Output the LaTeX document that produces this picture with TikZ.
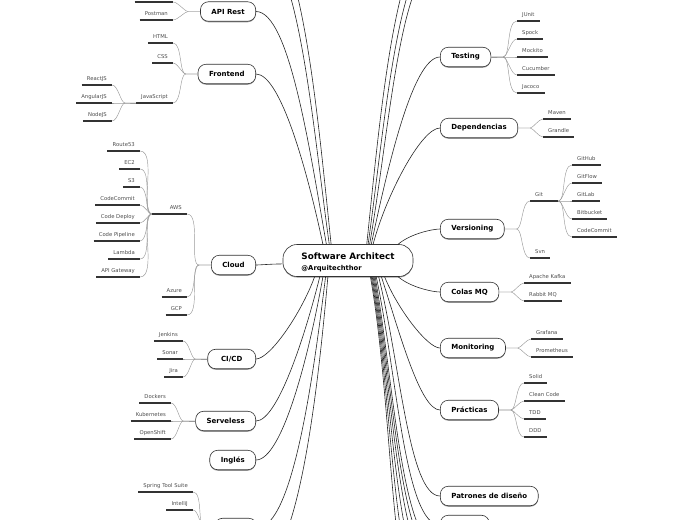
\documentclass[tikz,border=0pt]{standalone}
\usepackage{fontspec}
\setmainfont{DejaVu Sans}
\usetikzlibrary{shadows}

\tikzset{
  root/.style={draw=black!80, fill=white, line width=0.6pt, rounded corners=14pt,
    minimum width=130pt, minimum height=32pt, align=left, inner sep=0pt,
    font=\bfseries\fontsize{8.8}{11}\selectfont,
    drop shadow={shadow xshift=0pt, shadow yshift=-1pt, fill=black!40, opacity=1}},
  topic/.style={draw=black!80, fill=white, line width=0.6pt, rounded corners=8pt,
    minimum height=19.5pt, inner xsep=11pt, inner ysep=0pt,
    font=\bfseries\fontsize{7}{8}\selectfont,
    drop shadow={shadow xshift=0pt, shadow yshift=-1pt, fill=black!40, opacity=1}},
  leaf/.style={font=\fontsize{5.3}{6}\selectfont, text=black!70, inner xsep=5pt,
    inner ysep=1.5pt, text height=4pt, text depth=2.7pt,
    append after command={(\tikzlastnode.south west) edge[uline] (\tikzlastnode.south east)}},
  uline/.style={draw=black!80, line width=1.2pt},
  trunk/.style={draw=black!85, line width=0.6pt, in looseness=.35},
  twig/.style={draw=black!40, line width=0.45pt},
  lt/.style={out=180, in=0, out looseness=.5, in looseness=.7},
  rt/.style={out=0, in=180, out looseness=.5, in looseness=.7},
}

\begin{document}
\begin{tikzpicture}[x=1pt, y=1pt]
  \useasboundingbox (0,0) rectangle (697,-520);

  % centre
  \node[root] (root) at (348,-260.5) {\rule{0pt}{10pt}Software Architect\\{\fontsize{6.8}{8}\selectfont @Arquitechthor}};

  % left topics
  \node[topic, anchor=east] (api) at (256,-11.5) {API Rest};
  \node[topic, anchor=east] (front) at (256,-74) {Frontend};
  \node[topic, anchor=east] (cloud) at (256,-265) {Cloud};
  \node[topic, anchor=east, minimum width=48pt] (cicd) at (256,-359) {CI/CD};
  \node[topic, anchor=east] (serv) at (256,-421) {Serveless};
  \node[topic, anchor=east] (ingles) at (256,-460) {Inglés};
  \node[topic, anchor=east, minimum width=42pt] (ide) at (257,-528) {};

  % right topics
  \node[topic, anchor=west] (test) at (440,-57) {Testing};
  \node[topic, anchor=west] (deps) at (440,-128) {Dependencias};
  \node[topic, anchor=west] (vers) at (440,-229) {Versioning};
  \node[topic, anchor=west] (colas) at (440,-292) {Colas MQ};
  \node[topic, anchor=west] (monit) at (440,-348) {Monitoring};
  \node[topic, anchor=west] (pract) at (440,-410) {Prácticas};
  \node[topic, anchor=west] (patron) at (440,-496) {Patrones de diseño};
  \node[topic, anchor=west, minimum width=49pt] (last) at (440,-525) {};

  % branches that run off the page
  \coordinate (up1) at (256,56);
  \coordinate (up2) at (256,78);
  \coordinate (up3) at (440,38);
  \coordinate (up4) at (440,52);
  \coordinate (up5) at (440,70);
  \coordinate (down1) at (256,-570);

  % main branches
  \draw[trunk] (root.136) to[out=96, in=0] (up2);
  \draw[trunk] (root.139) to[out=98, in=0] (up1);
  \draw[trunk] (root.143) to[out=100, in=0] (api.east);
  \draw[trunk] (root.147) to[out=102, in=0] (front.east);
  \draw[trunk] (root.183) to[out=180, in=0] (cloud.east);
  \draw[trunk] (root.206) to[out=250, in=0] (cicd.east);
  \draw[trunk] (root.210) to[out=256, in=0] (serv.east);
  \draw[trunk] (root.213) to[out=260, in=0] (ingles.east);
  \draw[trunk] (root.216) to[out=263, in=0] (ide.east);
  \draw[trunk] (root.219) to[out=265, in=0] (down1);
  \draw[trunk] (root.41) to[out=84, in=180] (up5);
  \draw[trunk] (root.39) to[out=82, in=180] (up4);
  \draw[trunk] (root.37) to[out=80, in=180] (up3);
  \draw[trunk] (root.35) to[out=78, in=180] (test.west);
  \draw[trunk] (root.33) to[out=75, in=180] (deps.west);
  \draw[trunk] (root.18) to[out=40, in=180] (vers.west);
  \draw[trunk] (root.-18) to[out=-40, in=180] (colas.west);
  \draw[trunk] (root.-24) to[out=-68, in=180] (monit.west);
  \draw[trunk] (root.-26) to[out=-72, in=180] (pract.west);
  \draw[trunk] (root.-28) to[out=-76, in=180] (patron.west);
  \draw[trunk] (root.-30) to[out=-78, in=180] (last.west);
  \foreach \a/\y in {-31/548, -32/560, -33/575, -34/595, -35/620, -36/650}{
    \coordinate (down\y) at (440,-\y);
    \draw[trunk] (root.\a) to[out=-80, in=180] (down\y);
  }

  % API Rest
  \node[leaf, anchor=south east, minimum width=38pt] (api1) at (173,-2) {};
  \node[leaf, anchor=south east] (postman) at (173,-20) {Postman};
  \draw[twig] (api.west) -- ++(-12,0) to[lt] (api1.south east);
  \draw[twig] (api.west) -- ++(-12,0) to[lt] (postman.south east);

  % Frontend
  \foreach \n/\t/\y in {html/HTML/43, css/CSS/63, js/JavaScript/103}{
    \node[leaf, anchor=south east] (\n) at (173,-\y) {\t};
    \draw[twig] (front.west) -- ++(-12,0) to[lt] (\n.south east);
  }
  \foreach \n/\t/\y in {react/ReactJS/85, angular/AngularJS/103, nodejs/NodeJS/121}{
    \node[leaf, anchor=south east] (\n) at (112,-\y) {\t};
    \draw[twig] (js.south west) -- ++(-11,0) to[lt] (\n.south east);
  }

  % Cloud
  \node[leaf, anchor=south east, text width=25pt, align=right] (aws) at (187,-214) {AWS};
  \node[leaf, anchor=south east] (azure) at (187,-297) {Azure};
  \node[leaf, anchor=south east] (gcp) at (187,-315) {GCP};
  \foreach \n in {aws, azure, gcp}
    \draw[twig] (cloud.west) -- ++(-12,0) to[lt] (\n.south east);
  \foreach \n/\t/\y in {route/Route53/151, ec2/EC2/169, s3/S3/187, commit/CodeCommit/205,
      deploy/Code Deploy/223, pipe/Code Pipeline/241, lambda/Lambda/259, gateway/API Gateway/277}{
    \node[leaf, anchor=south east] (\n) at (140,-\y) {\t};
    \draw[twig] (aws.south west) to[lt] (\n.south east);
  }

  % CI/CD
  \foreach \n/\t/\y in {jenkins/Jenkins/341, sonar/Sonar/359, jira/Jira/377}{
    \node[leaf, anchor=south east] (\n) at (183,-\y) {\t};
    \draw[twig] (cicd.west) -- ++(-12,0) to[lt] (\n.south east);
  }

  % Serveless
  \foreach \n/\t/\y in {dockers/Dockers/403, kube/Kubernetes/421, shift/OpenShift/439}{
    \node[leaf, anchor=south east] (\n) at (171,-\y) {\t};
    \draw[twig] (serv.west) -- ++(-12,0) to[lt] (\n.south east);
  }

  % bottom left topic
  \foreach \n/\t/\y in {sts/Spring Tool Suite/492, intellij/IntelliJ/510}{
    \node[leaf, anchor=south east] (\n) at (193,-\y) {\t};
    \draw[twig] (ide.west) -- ++(-10,0) to[lt] (\n.south east);
  }

  % Testing
  \foreach \n/\t/\y in {junit/JUnit/21, spock/Spock/39, mockito/Mockito/57, cucumber/Cucumber/75, jacoco/Jacoco/93}{
    \node[leaf, anchor=south west] (\n) at (517,-\y) {\t};
    \draw[twig] (test.east) -- ++(12,0) to[rt] (\n.south west);
  }

  % Dependencias
  \foreach \n/\t/\y in {maven/Maven/119, grandle/Grandle/137}{
    \node[leaf, anchor=south west] (\n) at (543,-\y) {\t};
    \draw[twig] (deps.east) -- ++(12,0) to[rt] (\n.south west);
  }

  % Versioning
  \node[leaf, anchor=south west, text width=18pt, align=left] (git) at (530,-201) {Git};
  \node[leaf, anchor=south west] (svn) at (530,-258) {Svn};
  \foreach \n in {git, svn}
    \draw[twig] (vers.east) -- ++(12,0) to[rt] (\n.south west);
  \foreach \n/\t/\y in {github/GitHub/165, gitflow/GitFlow/183, gitlab/GitLab/201, bitbucket/Bitbucket/219, gcommit/CodeCommit/237}{
    \node[leaf, anchor=south west] (\n) at (572,-\y) {\t};
    \draw[twig] (git.south east) to[rt] (\n.south west);
  }

  % Colas MQ
  \foreach \n/\t/\y in {kafka/Apache Kafka/283, rabbit/Rabbit MQ/301}{
    \node[leaf, anchor=south west] (\n) at (524,-\y) {\t};
    \draw[twig] (colas.east) -- ++(12,0) to[rt] (\n.south west);
  }

  % Monitoring
  \foreach \n/\t/\y in {grafana/Grafana/339, prom/Prometheus/357}{
    \node[leaf, anchor=south west] (\n) at (531,-\y) {\t};
    \draw[twig] (monit.east) -- ++(12,0) to[rt] (\n.south west);
  }

  % Practicas
  \foreach \n/\t/\y in {solid/Solid/383, clean/Clean Code/401, tdd/TDD/419, ddd/DDD/437}{
    \node[leaf, anchor=south west] (\n) at (524,-\y) {\t};
    \draw[twig] (pract.east) -- ++(12,0) to[rt] (\n.south west);
  }
\end{tikzpicture}
\end{document}
